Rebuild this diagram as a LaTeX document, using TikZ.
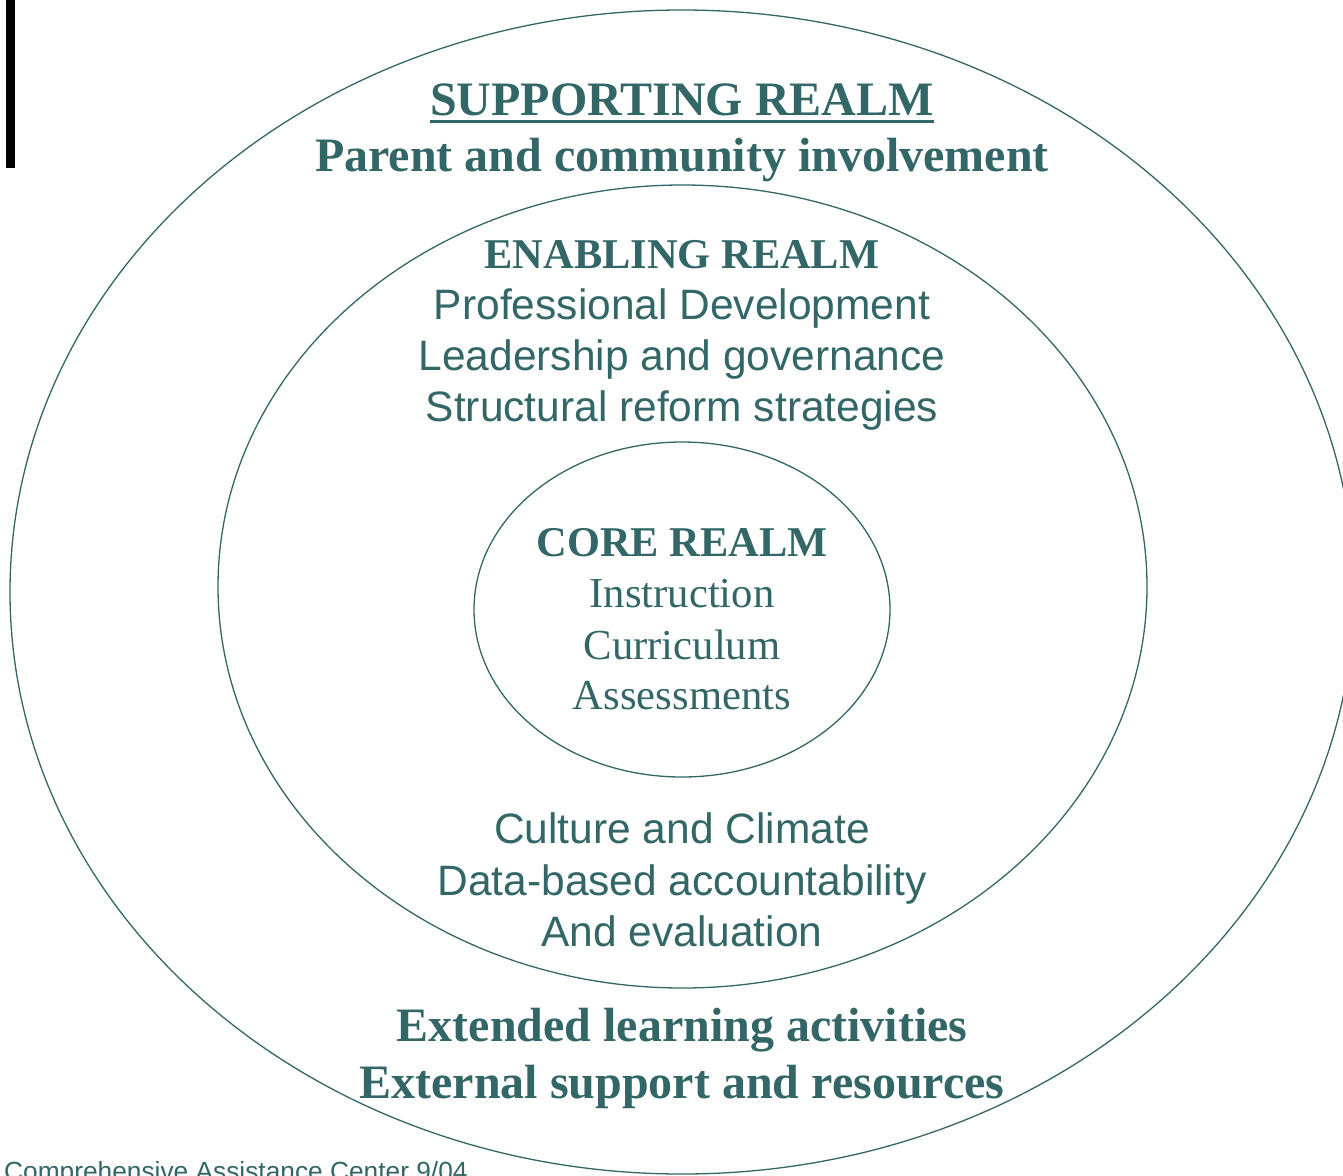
\documentclass[tikz,border=0pt]{standalone}
\usepackage{fontspec}
\setmainfont{Liberation Serif}
\setsansfont{Liberation Sans}
\definecolor{realm}{RGB}{51,102,102}
\begin{document}
\begin{tikzpicture}[x=1pt,y=-1pt,
  ring/.style={draw=realm,line width=1.3pt},
  heading/.style={text=realm,inner sep=0pt,anchor=base,font=\fontsize{48}{48}\selectfont\bfseries},
  subhead/.style={text=realm,inner sep=0pt,anchor=base,font=\fontsize{42.4}{42.4}\selectfont\bfseries},
  sansline/.style={text=realm,inner sep=0pt,anchor=base,font=\fontsize{42.5}{42.5}\selectfont\sffamily},
  serifline/.style={text=realm,inner sep=0pt,anchor=base,font=\fontsize{42.7}{42.7}\selectfont}]
\useasboundingbox (0,0) rectangle (1343,1175);
\clip (0,0) rectangle (1343,1175);

% realms
\draw[ring] (682,592) ellipse [x radius=672,y radius=582];
\draw[ring] (682.5,586.5) ellipse [x radius=464.5,y radius=401.5];
\draw[ring] (682,609.5) ellipse [x radius=208,y radius=167.5];

% margin bar
\fill[black] (6,0) rectangle (14.5,168);

% supporting realm
\node[heading] (sup) at (682,115) {SUPPORTING REALM};
\draw[realm,line width=3pt] ([yshift=-6pt]sup.base west) -- ([yshift=-6pt]sup.base east);
\node[heading] (sup1) at (682,171.5) {Parent and community involvement};

% enabling realm
\node[subhead] (ena) at (682,268) {ENABLING REALM};
\node[sansline] (ena1) at (682,319.5) {Professional Development};
\node[sansline] (ena2) at (682,370.5) {Leadership and governance};
\node[sansline] (ena3) at (682,421.5) {Structural reform strategies};

% core realm
\node[subhead] (core) at (682,556) {CORE REALM};
\node[serifline] (core1) at (682,607.5) {Instruction};
\node[serifline] (core2) at (682,659) {Curriculum};
\node[serifline] (core3) at (682,709.5) {Assessments};

% enabling realm, lower items
\node[sansline] (ena4) at (682,843.5) {Culture and Climate};
\node[sansline] (ena5) at (682,895) {Data-based accountability};
\node[sansline] (ena6) at (682,946.5) {And evaluation};

% supporting realm, lower items
\node[heading] (sup2) at (682,1041) {Extended learning activities};
\node[heading] (sup3) at (682,1098.5) {External support and resources};

% footer
\node[text=realm,inner sep=0pt,anchor=base west,font=\fontsize{26.3}{26.3}\selectfont\sffamily] (foot) at (4,1180.5) {Comprehensive Assistance Center 9/04};
\end{tikzpicture}
\end{document}
